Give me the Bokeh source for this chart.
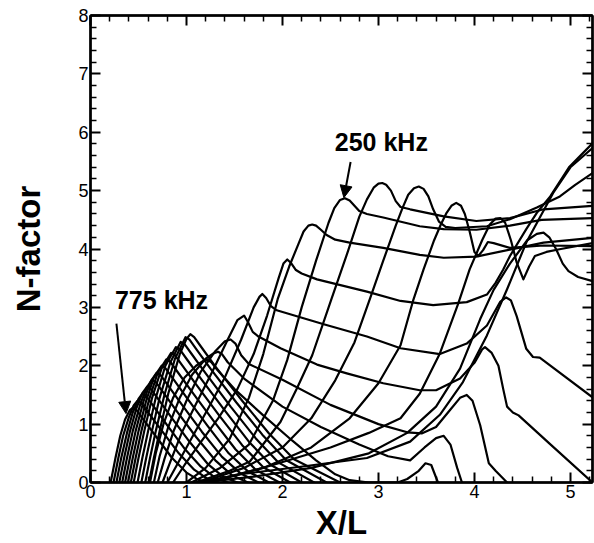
from bokeh.plotting import figure
from bokeh.models import Range1d, LinearAxis, FixedTicker, Label, Arrow, NormalHead
from bokeh.embed import file_html
from bokeh.resources import INLINE

x_ticks = [0, 1, 2, 3, 4, 5]
x_minor = [0.2, 0.4, 0.6, 0.8, 1.2, 1.4, 1.6, 1.8, 2.2, 2.4, 2.6, 2.8, 3.2, 3.4, 3.6, 3.8,
           4.2, 4.4, 4.6, 4.8, 5.2]
y_ticks = [0, 1, 2, 3, 4, 5, 6, 7, 8]
y_minor = [0.2, 0.4, 0.6, 0.8, 1.2, 1.4, 1.6, 1.8, 2.2, 2.4, 2.6, 2.8, 3.2, 3.4, 3.6, 3.8,
           4.2, 4.4, 4.6, 4.8, 5.2, 5.4, 5.6, 5.8, 6.2, 6.4, 6.6, 6.8, 7.2, 7.4, 7.6, 7.8]

# high-frequency curves (775 kHz side): rise, peak, decay to zero
L1 = [(0.21, 0), (0.26, 0.42), (0.31, 0.8), (0.36, 1.08), (0.41, 1.24), (0.44, 1.28),
      (0.48, 1.24), (0.55, 1.08), (0.7, 0.75), (0.85, 0.42), (1.0, 0.17), (1.12, 0.05), (1.22, 0)]
L2 = [(0.24, 0), (0.29, 0.42), (0.34, 0.8), (0.4, 1.12), (0.45, 1.32), (0.49, 1.4),
      (0.53, 1.36), (0.6, 1.2), (0.75, 0.87), (0.92, 0.5), (1.08, 0.22), (1.22, 0.06), (1.33, 0)]
L3 = [(0.27, 0), (0.32, 0.42), (0.38, 0.85), (0.44, 1.2), (0.5, 1.43), (0.54, 1.52),
      (0.58, 1.48), (0.65, 1.32), (0.8, 0.98), (0.98, 0.58), (1.15, 0.27), (1.3, 0.08), (1.43, 0)]
L4 = [(0.30, 0), (0.35, 0.42), (0.41, 0.87), (0.48, 1.28), (0.54, 1.53), (0.59, 1.64),
      (0.63, 1.6), (0.7, 1.44), (0.85, 1.1), (1.04, 0.68), (1.22, 0.32), (1.38, 0.1), (1.53, 0)]
L5 = [(0.33, 0), (0.38, 0.42), (0.44, 0.88), (0.52, 1.35), (0.59, 1.64), (0.64, 1.76),
      (0.68, 1.72), (0.75, 1.56), (0.9, 1.22), (1.1, 0.78), (1.3, 0.38), (1.47, 0.13), (1.64, 0)]
L6 = [(0.36, 0), (0.41, 0.42), (0.47, 0.88), (0.55, 1.38), (0.63, 1.74), (0.69, 1.88),
      (0.73, 1.84), (0.8, 1.68), (0.95, 1.34), (1.16, 0.87), (1.37, 0.44), (1.56, 0.16), (1.75, 0)]
L7 = [(0.39, 0), (0.44, 0.42), (0.5, 0.88), (0.58, 1.4), (0.66, 1.8), (0.74, 2.0),
      (0.78, 1.96), (0.85, 1.8), (1.0, 1.46), (1.22, 0.97), (1.44, 0.5), (1.64, 0.19), (1.86, 0)]
L8 = [(0.42, 0), (0.47, 0.42), (0.53, 0.88), (0.61, 1.42), (0.7, 1.88), (0.79, 2.11),
      (0.83, 2.07), (0.9, 1.91), (1.05, 1.57), (1.28, 1.06), (1.51, 0.57), (1.72, 0.22), (1.97, 0)]
L9 = [(0.45, 0), (0.5, 0.42), (0.56, 0.88), (0.64, 1.44), (0.74, 1.95), (0.84, 2.22),
      (0.88, 2.18), (0.95, 2.02), (1.1, 1.68), (1.34, 1.15), (1.58, 0.64), (1.8, 0.26), (2.08, 0)]
L10 = [(0.49, 0), (0.54, 0.42), (0.6, 0.88), (0.68, 1.45), (0.78, 2.0), (0.89, 2.32),
       (0.93, 2.28), (1.0, 2.12), (1.15, 1.78), (1.4, 1.23), (1.65, 0.7), (1.88, 0.3), (2.2, 0)]
L11 = [(0.53, 0), (0.58, 0.42), (0.64, 0.88), (0.72, 1.45), (0.83, 2.05), (0.94, 2.41),
       (0.98, 2.37), (1.05, 2.21), (1.2, 1.87), (1.46, 1.3), (1.72, 0.76), (1.96, 0.34), (2.33, 0)]
L12 = [(0.57, 0), (0.62, 0.42), (0.68, 0.88), (0.77, 1.5), (0.88, 2.12), (0.99, 2.49),
       (1.03, 2.45), (1.1, 2.29), (1.25, 1.95), (1.52, 1.37), (1.79, 0.82), (2.04, 0.38), (2.46, 0)]
L13 = [(0.61, 0), (0.66, 0.42), (0.72, 0.88), (0.81, 1.52), (0.93, 2.2), (1.0, 2.46), (1.04, 2.54),
       (1.08, 2.49), (1.15, 2.33), (1.3, 1.99), (1.58, 1.4), (1.86, 0.84), (2.12, 0.4), (2.6, 0)]

# mid-frequency curves: first lobe, slow decay, second lobe
M1 = [(0.62, 0), (0.68, 0.5), (0.76, 1.0), (0.86, 1.45), (0.98, 1.8), (1.1, 2.0), (1.17, 2.08),
      (1.22, 2.1), (1.26, 2.06), (1.32, 1.93), (1.5, 1.6), (1.8, 1.15), (2.1, 0.72), (2.35, 0.38),
      (2.55, 0.14), (2.7, 0.04), (2.9, 0), (3.2, 0), (3.3, 0.06), (3.42, 0.2), (3.49, 0.33),
      (3.55, 0.3), (3.62, 0)]
M2 = [(0.66, 0), (0.72, 0.45), (0.81, 0.95), (0.93, 1.45), (1.06, 1.85), (1.2, 2.12), (1.28, 2.21),
      (1.33, 2.24), (1.37, 2.2), (1.43, 2.06), (1.6, 1.78), (2.0, 1.3), (2.4, 0.95), (2.8, 0.65),
      (3.1, 0.45), (3.33, 0.38), (3.48, 0.6), (3.6, 0.76), (3.68, 0.8), (3.75, 0.65), (3.82, 0.25),
      (3.87, 0)]
M3 = [(0.7, 0), (0.77, 0.4), (0.87, 0.9), (1.0, 1.4), (1.15, 1.9), (1.3, 2.25), (1.4, 2.42),
      (1.46, 2.45), (1.51, 2.38), (1.57, 2.18), (1.65, 2.03), (2.0, 1.76), (2.5, 1.33), (3.0, 1.0),
      (3.3, 0.86), (3.45, 0.84), (3.6, 0.95), (3.75, 1.25), (3.85, 1.45), (3.92, 1.5), (3.98, 1.4),
      (4.06, 0.98), (4.15, 0.33), (4.22, 0.2), (4.34, 0)]
M4 = [(0.75, 0), (0.83, 0.35), (0.95, 0.85), (1.1, 1.35), (1.27, 1.9), (1.43, 2.45), (1.53, 2.78),
      (1.6, 2.86), (1.64, 2.75), (1.69, 2.58), (1.75, 2.5), (1.98, 2.3), (2.36, 2.02), (2.67, 1.87),
      (3.05, 1.7), (3.43, 1.58), (3.6, 1.58), (3.85, 1.78), (4.0, 2.05), (4.08, 2.28), (4.11, 2.32),
      (4.18, 2.22), (4.25, 2.0), (4.3, 1.6), (4.34, 1.3), (4.4, 1.2), (4.46, 1.15), (4.8, 0.64),
      (5.23, 0)]
M5 = [(0.8, 0), (0.9, 0.3), (1.05, 0.75), (1.22, 1.25), (1.4, 1.8), (1.57, 2.45), (1.7, 3.0),
      (1.76, 3.18), (1.79, 3.23), (1.83, 3.16), (1.88, 3.02), (1.94, 2.95), (2.43, 2.71), (2.88, 2.5),
      (3.23, 2.3), (3.64, 2.2), (3.92, 2.38), (4.13, 2.69), (4.27, 3.1), (4.33, 3.17), (4.38, 3.12),
      (4.44, 2.85), (4.54, 2.29), (4.61, 2.15), (4.68, 2.14), (5.23, 1.46)]
M6 = [(0.86, 0), (0.98, 0.3), (1.13, 0.65), (1.33, 1.1), (1.53, 1.6), (1.7, 2.2), (1.84, 2.86),
      (1.96, 3.5), (2.01, 3.75), (2.05, 3.82), (2.09, 3.76), (2.14, 3.64), (2.2, 3.58), (2.36, 3.48),
      (2.88, 3.27), (3.23, 3.11), (3.57, 3.04), (3.92, 3.09), (4.13, 3.22), (4.22, 3.42), (4.3, 3.65),
      (4.37, 3.88), (4.54, 4.34), (4.65, 4.62), (4.79, 4.9), (4.99, 5.41), (5.23, 5.81)]

# low-frequency curves (250 kHz side)
U1 = [(1.0, 0), (1.2, 0.25), (1.45, 0.75), (1.65, 1.45), (1.8, 2.2), (1.95, 3.14), (2.07, 3.7),
      (2.17, 4.1), (2.22, 4.3), (2.27, 4.4), (2.31, 4.42), (2.35, 4.4), (2.4, 4.33), (2.46, 4.24),
      (2.55, 4.16), (2.7, 4.11), (3.05, 4.02), (3.43, 3.9), (3.68, 3.85), (4.02, 3.87), (4.37, 3.99),
      (4.72, 4.11), (5.23, 4.19)]
U2 = [(1.05, 0), (1.35, 0.25), (1.65, 0.65), (1.9, 1.4), (2.05, 2.1), (2.2, 3.0), (2.35, 3.8),
      (2.48, 4.45), (2.54, 4.7), (2.6, 4.84), (2.65, 4.87), (2.7, 4.83), (2.75, 4.74), (2.8, 4.65),
      (2.88, 4.6), (3.05, 4.54), (3.43, 4.39), (3.68, 4.34), (4.02, 4.33), (4.37, 4.4), (4.7, 4.5),
      (5.23, 4.53)]
U3 = [(1.1, 0), (1.45, 0.2), (1.66, 0.36), (1.98, 1.04), (2.15, 1.61), (2.31, 2.18), (2.51, 3.14),
      (2.68, 3.95), (2.8, 4.55), (2.88, 4.85), (2.95, 5.05), (3.0, 5.12), (3.04, 5.13), (3.08, 5.1),
      (3.13, 5.0), (3.18, 4.82), (3.23, 4.72), (3.33, 4.68), (3.68, 4.56), (4.02, 4.48), (4.37, 4.53),
      (4.72, 4.68), (5.23, 4.74)]
U4 = [(1.15, 0), (1.6, 0.25), (2.0, 0.6), (2.3, 1.1), (2.55, 1.75), (2.75, 2.4), (2.91, 3.14),
      (3.05, 3.8), (3.18, 4.4), (3.25, 4.7), (3.31, 4.93), (3.37, 5.04), (3.42, 5.07), (3.47, 5.03),
      (3.52, 4.9), (3.57, 4.68), (3.63, 4.47), (3.7, 4.38), (3.8, 4.36), (4.13, 4.39), (4.37, 4.51),
      (4.65, 4.71), (4.89, 4.9), (5.05, 5.1), (5.23, 5.3)]
U5 = [(1.2, 0), (1.8, 0.25), (2.3, 0.6), (2.7, 1.1), (3.0, 1.7), (3.23, 2.35), (3.36, 3.11),
      (3.47, 3.65), (3.58, 4.15), (3.65, 4.42), (3.71, 4.62), (3.76, 4.74), (3.81, 4.79), (3.86, 4.74),
      (3.9, 4.6), (3.95, 4.3), (4.0, 3.95), (4.04, 3.88), (4.09, 3.98), (4.14, 4.12), (4.2, 4.1),
      (4.37, 4.02), (4.72, 4.06), (5.23, 4.05)]
U6 = [(1.25, 0), (1.9, 0.3), (2.5, 0.6), (2.9, 0.85), (3.23, 1.1), (3.43, 1.52), (3.64, 2.21),
      (3.83, 3.06), (3.95, 3.65), (4.08, 4.15), (4.16, 4.42), (4.22, 4.52), (4.27, 4.53), (4.32, 4.45),
      (4.38, 4.15), (4.44, 3.77), (4.51, 3.48), (4.57, 3.7), (4.63, 3.88), (4.75, 3.95), (4.9, 4.0),
      (5.23, 4.1)]
A1 = [(1.1, 0), (1.6, 0.15), (2.19, 0.27), (2.88, 0.42), (3.33, 0.7), (3.64, 1.16), (3.88, 1.72),
      (4.13, 2.52), (4.34, 3.31), (4.54, 4.11), (4.82, 4.96), (5.0, 5.4), (5.23, 5.73)]
B1 = [(1.15, 0), (1.7, 0.1), (2.3, 0.25), (2.9, 0.5), (3.3, 0.85), (3.6, 1.3), (3.85, 1.95),
      (4.06, 2.8), (4.2, 3.3), (4.37, 3.75), (4.55, 4.15), (4.65, 4.26), (4.72, 4.28), (4.78, 4.2),
      (4.85, 4.0), (4.92, 3.75), (4.98, 3.62), (5.08, 3.52), (5.23, 3.45)]

curves = [L1, L2, L3, L4, L5, L6, L7, L8, L9, L10, L11, L12, L13,
          M1, M2, M3, M4, M5, M6, U1, U2, U3, U4, U5, U6, A1, B1]

FONT = "Liberation Sans"

p = figure(width=594, height=543, output_backend="svg", toolbar_location=None,
           x_range=Range1d(0, 5.23), y_range=Range1d(0, 8),
           min_border_left=90, min_border_right=2, min_border_top=15, min_border_bottom=59)
p.background_fill_color = "white"
p.border_fill_color = "white"
p.grid.visible = False
p.outline_line_color = "black"
p.outline_line_width = 2

for c in curves:
    p.line([pt[0] for pt in c], [pt[1] for pt in c], line_color="black", line_width=2.2,
           line_join="round", line_cap="round")


def style_axis(ax, show_labels):
    ax.axis_line_width = 2.5
    ax.axis_line_color = "black"
    ax.major_tick_in = 10
    ax.major_tick_out = 0
    ax.minor_tick_in = 6
    ax.minor_tick_out = 0
    ax.major_tick_line_width = 2
    ax.minor_tick_line_width = 1.5
    ax.major_tick_line_color = "black"
    ax.minor_tick_line_color = "black"
    ax.major_label_text_font = FONT
    if show_labels:
        ax.major_label_text_color = "black"
        ax.major_label_text_font_size = "18px"
        ax.major_label_standoff = 2
    else:
        ax.major_label_text_color = None
        ax.major_label_text_font_size = "1px"
        ax.major_label_standoff = 0


p.xaxis.ticker = FixedTicker(ticks=x_ticks, minor_ticks=x_minor)
p.yaxis.ticker = FixedTicker(ticks=y_ticks, minor_ticks=y_minor)
style_axis(p.xaxis[0], True)
style_axis(p.yaxis[0], True)
p.xaxis.axis_label = "X/L"
p.yaxis.axis_label = "N-factor"
for ax in (p.xaxis[0], p.yaxis[0]):
    ax.axis_label_text_font = FONT
    ax.axis_label_text_font_style = "bold"
    ax.axis_label_text_font_size = "33px"
    ax.axis_label_text_color = "black"
p.xaxis.axis_label_standoff = 3
p.yaxis.axis_label_standoff = 28

top = LinearAxis(ticker=FixedTicker(ticks=x_ticks, minor_ticks=x_minor))
right = LinearAxis(ticker=FixedTicker(ticks=y_ticks, minor_ticks=y_minor))
style_axis(top, False)
style_axis(right, False)
p.add_layout(top, "above")
p.add_layout(right, "right")

p.add_layout(Label(x=3.03, y=5.83, text="250 kHz", text_font=FONT, text_font_style="bold",
                   text_font_size="25px", text_color="black", text_align="center",
                   text_baseline="middle"))
p.add_layout(Label(x=0.74, y=3.13, text="775 kHz", text_font=FONT, text_font_style="bold",
                   text_font_size="25px", text_color="black", text_align="center",
                   text_baseline="middle"))
p.add_layout(Arrow(x_start=2.71, y_start=5.49, x_end=2.64, y_end=4.88, line_width=2,
                   line_color="black",
                   end=NormalHead(size=12, fill_color="black", line_color="black")))
p.add_layout(Arrow(x_start=0.27, y_start=2.72, x_end=0.37, y_end=1.18, line_width=2,
                   line_color="black",
                   end=NormalHead(size=12, fill_color="black", line_color="black")))

open("out.html", "w").write(file_html(p, INLINE))
